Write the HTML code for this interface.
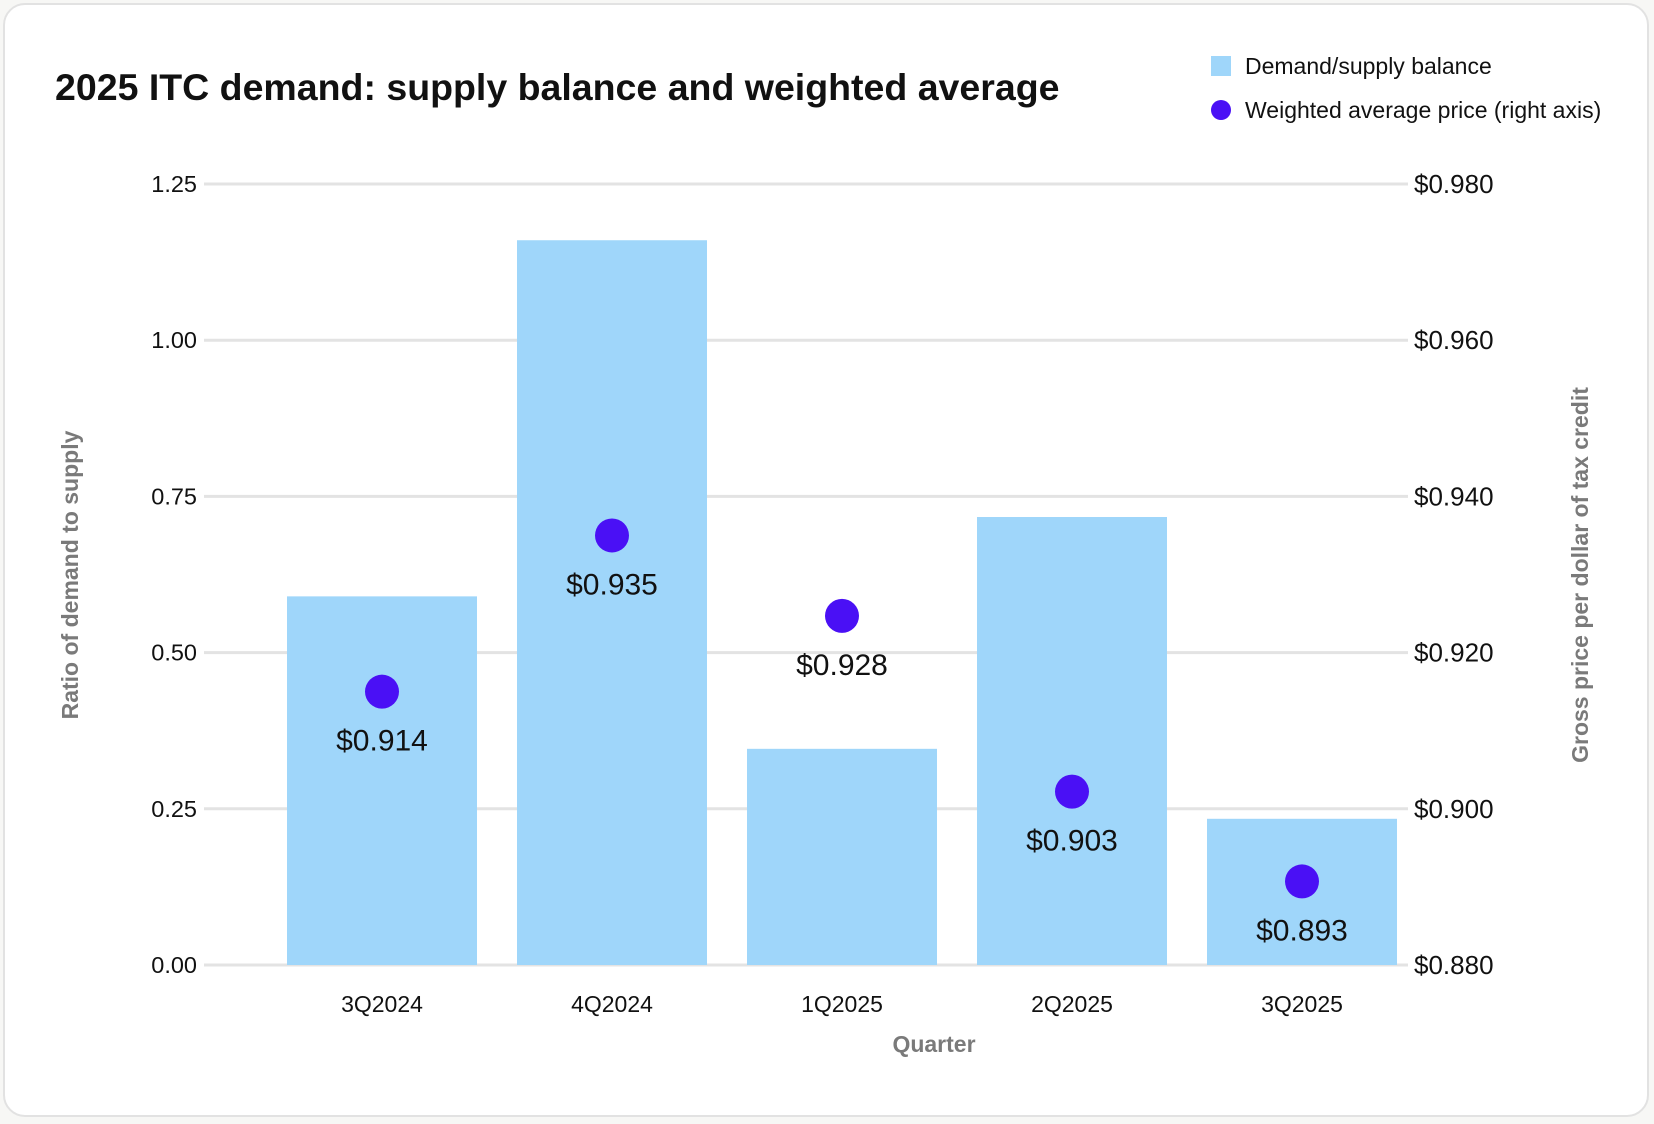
<!DOCTYPE html>
<html><head><meta charset="utf-8"><style>
html,body{margin:0;padding:0;background:#f7f7f5;}
body{width:1654px;height:1124px;overflow:hidden;position:relative;font-family:"Liberation Sans",sans-serif;}
#frame{position:absolute;left:3px;top:3px;width:1642px;height:1110px;background:#fff;border:2px solid #e2e2e2;border-radius:22px;}
svg{position:absolute;left:0;top:0;}
</style></head><body>
<div id="frame"></div>
<svg id="chart" width="1654" height="1124">
<text x="55" y="100" font-size="37.5" font-weight="bold" fill="#111">2025 ITC demand: supply balance and weighted average</text>
<g>
<rect x="1211" y="56" width="20" height="20" fill="#9fd6fa"/>
<text x="1245" y="74" font-size="23" fill="#111">Demand/supply balance</text>
<circle cx="1221" cy="110" r="10" fill="#4a10f5"/>
<text x="1245" y="118" font-size="23" fill="#111">Weighted average price (right axis)</text>
</g>
<g id="grid"></g><g id="bars"></g><g id="dots"></g><g id="axes"></g>
<text x="934" y="1052" font-size="23" font-weight="bold" fill="#7a7a7a" text-anchor="middle">Quarter</text>
<text transform="translate(78,575) rotate(-90)" font-size="23" font-weight="bold" fill="#7a7a7a" text-anchor="middle">Ratio of demand to supply</text>
<text transform="translate(1588,575) rotate(-90)" font-size="23" font-weight="bold" fill="#7a7a7a" text-anchor="middle">Gross price per dollar of tax credit</text>
</svg>
<script>
const categories=["3Q2024","4Q2024","1Q2025","2Q2025","3Q2025"];
const balance=[0.59,1.16,0.346,0.717,0.234];
const price=[0.915,0.935,0.9247,0.9022,0.8907];
const priceLabels=["$0.914","$0.935","$0.928","$0.903","$0.893"];
const leftTicks=[0,0.25,0.5,0.75,1.0,1.25];
const rightTicks=[0.88,0.90,0.92,0.94,0.96,0.98];
const NS="http://www.w3.org/2000/svg";
const y0=965,y1=184;
function yL(v){return y0-(v/1.25)*(y0-y1);}
function yR(v){return y0-((v-0.88)/0.10)*(y0-y1);}
function xC(i){return 382+i*230;}
function mk(tag,attrs,parent,txt){const e=document.createElementNS(NS,tag);for(const k in attrs)e.setAttribute(k,attrs[k]);if(txt!==undefined)e.textContent=txt;document.getElementById(parent).appendChild(e);return e;}
leftTicks.forEach((t,i)=>{
 const y=yL(t);
 const g=mk('line',{x1:204,x2:1408,y1:y,y2:y,stroke:'#e3e3e3','stroke-width':3},'grid');
 
 
 const l=mk('text',{x:197,y:y+8,'font-size':23.5,'text-anchor':'end',fill:'#111'},'axes',t.toFixed(2));
 
 
});
rightTicks.forEach(t=>{
 const y=yR(t);
 const l=mk('text',{x:1414,y:y+9,'font-size':26,fill:'#111'},'axes','$'+t.toFixed(3));
 
 
});
categories.forEach((c,i)=>{
 const x=xC(i);
 const b=mk('rect',{x:x-95,y:yL(balance[i]),width:190,height:y0-yL(balance[i]),fill:'#9fd6fa'},'bars');
 
 
 const cl=mk('text',{x:x,y:1012,'font-size':23,'text-anchor':'middle',fill:'#111'},'axes',c);
 
 
 const yy=yR(price[i]);
 const d=mk('circle',{cx:x,cy:yy,r:17,fill:'#4a10f5'},'dots');
 
 
 const pl=mk('text',{x:x,y:yy+59,'font-size':30,'text-anchor':'middle',fill:'#111'},'dots',priceLabels[i]);
 
 
});
</script>
</body></html>
